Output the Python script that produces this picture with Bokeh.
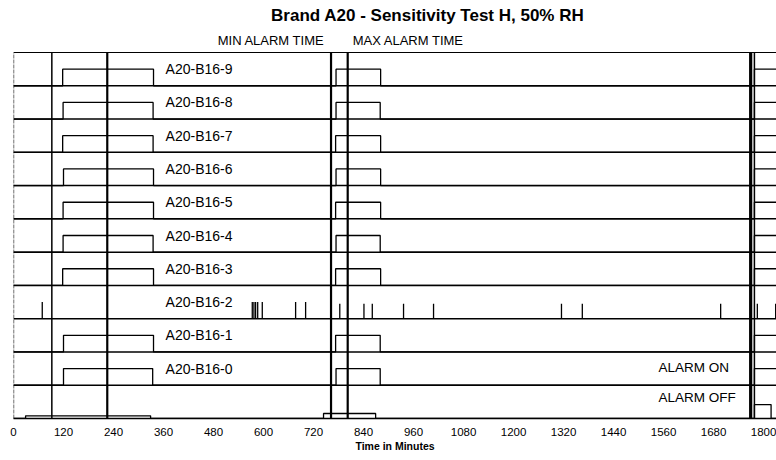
from bokeh.plotting import figure
from bokeh.models import Range1d, FixedTicker, Label, ColumnDataSource
from bokeh.core.properties import value
from bokeh.embed import file_html
from bokeh.resources import INLINE

FONT = "Liberation Sans"

# ---- data (minutes) ----
title_text = "Brand A20 - Sensitivity Test H, 50% RH"
x_label = "Time in Minutes"
x_ticks = [0, 120, 240, 360, 480, 600, 720, 840, 960, 1080, 1200, 1320, 1440, 1560, 1680, 1800]

sensor_names = ["A20-B16-9", "A20-B16-8", "A20-B16-7", "A20-B16-6", "A20-B16-5",
                "A20-B16-4", "A20-B16-3", "A20-B16-2", "A20-B16-1", "A20-B16-0"]
sensor_rows = [10, 9, 8, 7, 6, 5, 4, 3, 2, 1]          # baseline level of each sensor trace
pulse1_on = [118, 119, 118, 120, 119, 119, 118, None, 120, 120]
pulse1_off = [336, 335, 335, 336, 336, 335, 336, None, 336, 334]
pulse2_on = [774, 774, 773, 774, 773, 774, 773, None, 773, 774]
pulse2_off = [881, 880, 881, 881, 881, 880, 881, None, 880, 880]
pulse3_on = [1778, 1778, 1778, 1778, 1778, 1778, 1778, None, 1778, 1778]
pulse_level = 0.5

spike_times = [69, 573, 577, 581, 586, 597, 677, 701, 783, 841, 861, 936, 1008,
               1315, 1365, 1697, 1785, 1829]
spike_heights = [0.5, 0.5, 0.5, 0.5, 0.5, 0.5, 0.5, 0.5, 0.45, 0.45, 0.45, 0.45, 0.45,
                 0.45, 0.45, 0.45, 0.45, 0.45]

source_on = [29, 744, 1778]
source_off = [329, 869, 1818]
source_level = [0.08, 0.15, 0.42]

marker_times = [92, 225, 762, 802, 1769, 1778]
marker_widths = [1.5, 2.2, 2.2, 2.2, 3.2, 1.5]

x_end = 1831
top_row = 11
y_end = 12.563

p = figure(width=776, height=460, output_backend="svg", toolbar_location=None,
           x_range=Range1d(0, x_end), y_range=Range1d(0, y_end),
           min_border_left=13, min_border_right=0, min_border_top=0, min_border_bottom=42)
p.outline_line_color = None
p.grid.visible = False
p.yaxis.visible = False
p.background_fill_color = "white"
p.border_fill_color = "white"

# x axis
ax = p.xaxis[0]
ax.ticker = FixedTicker(ticks=x_ticks)
ax.major_tick_line_color = None
ax.minor_tick_line_color = None
ax.axis_line_color = "black"
ax.axis_line_width = 1.6
ax.major_label_text_font = FONT
ax.major_label_text_font_size = "11.5px"
ax.major_label_text_color = "black"
ax.major_label_standoff = 3
ax.axis_label = x_label
ax.axis_label_text_font = FONT
ax.axis_label_text_font_style = "bold"
ax.axis_label_text_font_size = "10.5px"
ax.axis_label_standoff = 1
ax.axis_label_text_color = "black"

# chart box: top and left lines
p.line([0, x_end], [top_row, top_row], line_color="black", line_width=1.2)
p.line([0, 0], [0, top_row], line_color="#333333", line_width=1.4, line_dash="4 1")

# sensor traces
for i, base in enumerate(sensor_rows):
    if pulse1_on[i] is None:
        p.line([0, x_end], [base, base], line_color="black", line_width=1.5)
        continue
    xs = [0, pulse1_on[i], pulse1_on[i], pulse1_off[i], pulse1_off[i],
          pulse2_on[i], pulse2_on[i], pulse2_off[i], pulse2_off[i],
          pulse3_on[i], pulse3_on[i], x_end]
    lv = [0, 0, 1, 1, 0, 0, 1, 1, 0, 0, 1, 1]
    ys = [base + pulse_level * v for v in lv]
    p.line(xs, ys, line_color="black", line_width=1.3)
    p.line([0, x_end], [base, base], line_color="black", line_width=1.5)

# spikes for sensor 2
row2 = sensor_rows[sensor_names.index("A20-B16-2")]
p.segment(x0=spike_times, y0=[row2] * len(spike_times), x1=spike_times,
          y1=[row2 + h for h in spike_heights], line_color="black", line_width=1.3)

# source / alarm row
sx, sy = [0], [0]
for on, off, lvl in zip(source_on, source_off, source_level):
    sx += [on, on, off, off]
    sy += [0, lvl, lvl, 0]
sx.append(x_end)
sy.append(0)
p.line(sx, sy, line_color="black", line_width=1.3)

# vertical marker lines (inside the chart box)
p.segment(x0=marker_times, y0=[0] * len(marker_times), x1=marker_times,
          y1=[top_row] * len(marker_times), line_color="black", line_width=marker_widths)

# labels
src = ColumnDataSource(dict(x=[365] * len(sensor_names),
                            y=[b + 0.5 for b in sensor_rows], t=sensor_names))
p.text(x="x", y="y", text="t", source=src, text_font=value(FONT), text_font_size="14px",
       text_baseline="middle", text_align="left", text_color="black")

p.add_layout(Label(x=1548, y=1.54, text="ALARM ON", text_font=FONT, text_font_size="13.5px",
                   text_baseline="middle", text_color="black"))
p.add_layout(Label(x=1548, y=0.63, text="ALARM OFF", text_font=FONT, text_font_size="13.5px",
                   text_baseline="middle", text_color="black"))
p.add_layout(Label(x=490, y=11.36, text="MIN ALARM TIME", text_font=FONT, text_font_size="13px",
                   text_baseline="middle", text_color="black"))
p.add_layout(Label(x=814, y=11.36, text="MAX ALARM TIME", text_font=FONT, text_font_size="13px",
                   text_baseline="middle", text_color="black"))
p.add_layout(Label(x=994, y=12.11, text=title_text, text_font=FONT, text_font_size="17px",
                   text_font_style="bold", text_align="center", text_baseline="middle",
                   text_color="black"))

open("out.html", "w").write(file_html(p, INLINE))
